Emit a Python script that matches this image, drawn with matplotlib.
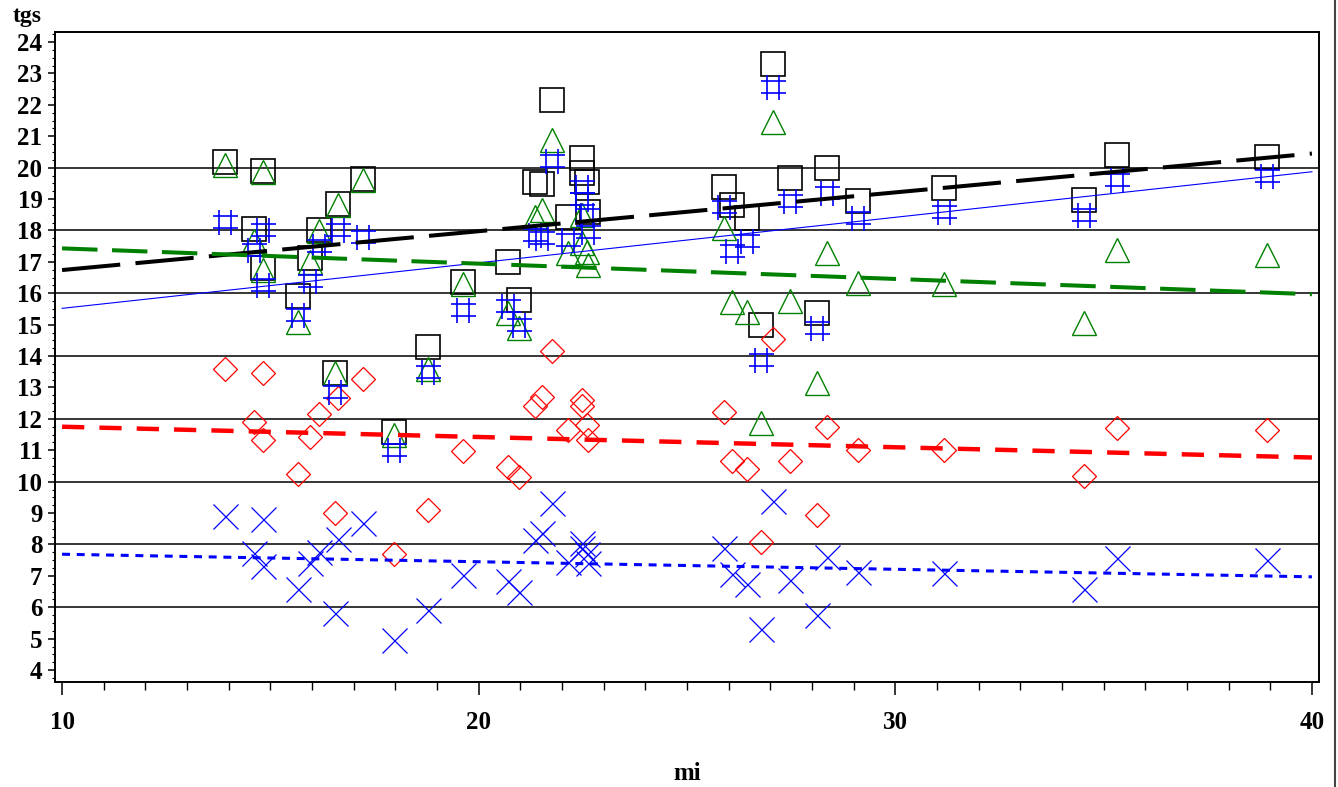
import matplotlib
matplotlib.use("Agg")
import matplotlib.pyplot as plt
from matplotlib.path import Path
from matplotlib.ticker import MultipleLocator
from matplotlib.lines import Line2D

# subjects: mi and the five tgs measures
mi = [13.91, 14.61, 14.83, 14.83, 15.66, 15.94, 16.17, 16.55, 16.63, 17.23, 17.97, 18.79,
      19.63, 20.71, 20.97, 21.34, 21.51, 21.75, 22.15, 22.47, 22.49, 22.59, 22.63,
      25.88, 26.07, 26.43, 26.77, 27.07, 27.47, 28.11, 28.35, 29.11,
      31.17, 34.53, 35.31, 38.93]

tgs_square = [20.17, 18.04, 19.9, 16.82, 15.92, 17.11, 18.03, 13.45, 18.83, 19.64, 11.59, 14.3,
              16.37, 17.0, 15.78, 19.53, 19.48, 22.14, 18.43, 19.82, 20.3, 19.55, 18.6,
              19.39, 18.82, 18.39, 14.98, 23.29, 19.67, 15.37, 19.98, 18.94,
              19.36, 18.97, 20.4, 20.35]

tgs_hash = [18.28, 17.38, 18.01, 16.26, 15.31, 16.4, 17.49, 12.87, 18.01, 17.8, 11.0, 13.5,
            15.46, 15.6, 15.0, 17.85, 17.75, 20.2, 17.69, 19.0, 19.4, 18.5, 17.95,
            18.76, 17.35, 17.66, 13.88, 22.56, 18.94, 14.91, 19.18, 18.39,
            18.6, 18.49, 19.6, 19.74]

tgs_triangle = [20.08, 17.67, 19.86, 16.74, 15.1, 17.0, 17.97, 13.45, 18.8, 19.6, 11.5, 13.6,
                16.3, 15.36, 14.88, 18.44, 18.65, 20.88, 17.27, 17.6, 18.5, 17.3, 16.9,
                18.09, 15.71, 15.4, 11.87, 21.46, 15.77, 13.15, 17.29, 16.32,
                16.29, 15.04, 17.38, 17.22]

tgs_diamond = [13.6, 11.91, 13.45, 11.32, 10.24, 11.43, 12.15, 8.99, 12.65, 13.26, 7.69, 9.1,
               10.98, 10.48, 10.16, 12.4, 12.7, 14.17, 11.64, 12.4, 12.6, 11.8, 11.32,
               12.23, 10.65, 10.4, 8.09, 14.55, 10.65, 8.94, 11.74, 11.01,
               11.0, 10.18, 11.7, 11.64]

tgs_x = [8.91, 7.72, 8.81, 7.31, 6.57, 7.42, 7.75, 5.81, 8.16, 8.69, 4.96, 5.91,
         7.03, 6.84, 6.49, 8.14, 8.35, 9.31, 7.45, 7.9, 8.05, 7.7, 7.4,
         7.9, 7.05, 6.74, 5.3, 9.37, 6.87, 5.77, 7.6, 7.11,
         7.1, 6.57, 7.56, 7.5]

# fitted lines, read at mi = 10 and mi = 40
fit_mi = [10, 40]
fit_square = [16.74, 20.45]
fit_hash = [15.52, 19.87]
fit_triangle = [17.43, 15.97]
fit_diamond = [11.75, 10.77]
fit_x = [7.69, 6.97]

ref_lines = [6, 8, 10, 12, 14, 16, 18, 20]

plt.rcParams['font.family'] = ['Liberation Serif', 'DejaVu Serif']
plt.rcParams['font.weight'] = 'bold'

# double cross marker
hash_marker = Path([(-0.25, -0.5), (-0.25, 0.5), (0.25, -0.5), (0.25, 0.5),
                    (-0.5, -0.25), (0.5, -0.25), (-0.5, 0.25), (0.5, 0.25)],
                   [Path.MOVETO, Path.LINETO] * 4)

fig = plt.figure(figsize=(13.38, 7.87), dpi=100)
ax = fig.add_axes([0.0411, 0.1334, 0.9447, 0.8259])

for r in ref_lines:
    ax.axhline(r, color='black', lw=1.1, zorder=1)

ax.plot(mi, tgs_square, ls='none', marker='s', ms=17, mfc='none', mec='black', mew=1.2, zorder=2)
ax.plot(mi, tgs_triangle, ls='none', marker='^', ms=17, mfc='none', mec='#008000', mew=1.0, zorder=3)
ax.plot(mi, tgs_hash, ls='none', marker=hash_marker, ms=18, mfc='none', mec='#0000ff', mew=1.2, zorder=4)
ax.plot(mi, tgs_diamond, ls='none', marker='D', ms=12.5, mfc='none', mec='#ff0000', mew=0.9, zorder=3)
ax.plot(mi, tgs_x, ls='none', marker='x', ms=18, mfc='none', mec='#0000ff', mew=0.9, zorder=3)

ax.plot(fit_mi, fit_square, color='black', lw=2.9, ls=(0, (14.5, 3.8)), zorder=5)
ax.plot(fit_mi, fit_hash, color='#0000ff', lw=0.8, zorder=5)
ax.plot(fit_mi, fit_triangle, color='#008000', lw=2.9, ls=(0, (8.8, 3.6)), zorder=5)
ax.plot(fit_mi, fit_diamond, color='#ff0000', lw=3.2, ls=(0, (5.0, 3.4)), zorder=5)
ax.plot(fit_mi, fit_x, color='#0000ff', lw=2.2, ls=(0, (2.6, 2.2)), zorder=5)

ax.set_xlim(9.83, 40.17)
ax.set_ylim(3.62, 24.32)

ax.xaxis.set_major_locator(MultipleLocator(10))
ax.xaxis.set_minor_locator(MultipleLocator(1))
ax.yaxis.set_major_locator(MultipleLocator(1))
ax.yaxis.set_minor_locator(MultipleLocator(0.25))

ax.tick_params(axis='x', which='major', length=9, width=1.1, pad=12, labelsize=18)
ax.tick_params(axis='x', which='minor', length=6, width=1.0)
ax.tick_params(axis='y', which='major', length=5, width=1.1, pad=4, labelsize=18)
ax.tick_params(axis='y', which='minor', length=2.5, width=0.8)

for lab in ax.get_xticklabels() + ax.get_yticklabels():
    lab.set_fontweight('bold')

for sp in ax.spines.values():
    sp.set_linewidth(1.4)

ax.set_xlabel('mi', fontsize=18, fontweight='bold', labelpad=20)
fig.text(0.031, 0.979, 'tgs', fontsize=17, fontweight='bold', ha='right', va='center')

# outer border at the right edge of the graph area
fig.add_artist(Line2D([0.9978, 0.9978], [0, 1], transform=fig.transFigure, color='#444444', lw=1.5))

fig.savefig('out.png', dpi=100)
